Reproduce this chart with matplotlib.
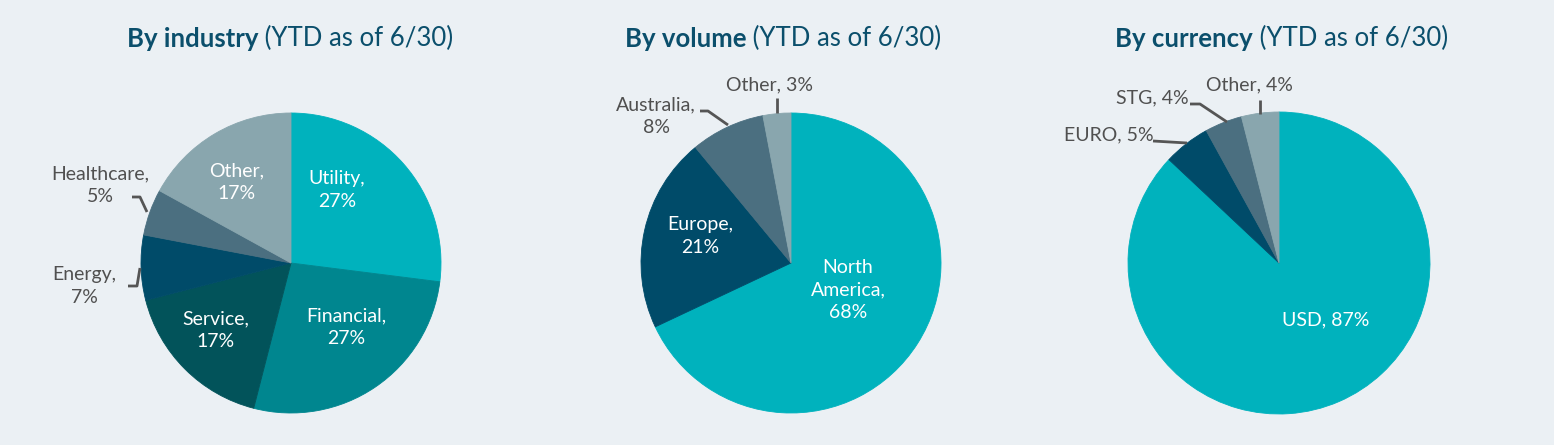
import matplotlib
matplotlib.use("Agg")
import matplotlib.pyplot as plt

# Data
industry_labels = ["Utility", "Financial", "Service", "Energy", "Healthcare", "Other"]
industry_values = [27, 27, 17, 7, 5, 17]

volume_labels = ["North\nAmerica", "Europe", "Australia", "Other"]
volume_values = [68, 21, 8, 3]

currency_labels = ["USD", "EURO", "STG", "Other"]
currency_values = [87, 5, 4, 4]

# Colours
TEAL = "#00B2BD"
FIN = "#00868F"
SERV = "#02535A"
NAVY = "#004B69"
SLATE = "#4B6F80"
GREY = "#89A6AE"
BG = "#EBF0F4"
TITLE_C = "#0B4F6C"
LABEL_C = "#505050"

W, H = 1554, 445
plt.rcParams["font.family"] = ["Lato", "DejaVu Sans"]

fig = plt.figure(figsize=(W / 100, H / 100), dpi=100, facecolor=BG)
ax = fig.add_axes([0, 0, 1, 1])
ax.set_facecolor(BG)


def Y(py):
    return H - py


charts = [
    dict(title="By industry", tx=127, cx=291, cy=263, r=150,
         values=industry_values, labels=industry_labels,
         colors=[TEAL, FIN, SERV, NAVY, SLATE, GREY],
         # label text, (x, y) in pixels, inside?, leader polyline
         texts=[("{},\n{}%", (337, 190), True, None),
                ("{},\n{}%", (346, 327), True, None),
                ("{},\n{}%", (216, 330), True, None),
                ("{},\n{}%", (84, 286), False, [(128, 286), (137, 286), (140, 268)]),
                ("{},\n{}%", (100, 185), False, [(132, 197), (140, 197), (147, 212)]),
                ("{},\n{}%", (237, 182), True, None)]),
    dict(title="By volume", tx=625, cx=791, cy=263, r=150,
         values=volume_values, labels=volume_labels,
         colors=[TEAL, NAVY, SLATE, GREY],
         texts=[("{},\n{}%", (848, 290), True, None),
                ("{},\n{}%", (700, 236), True, None),
                ("{},\n{}%", (656, 116), False, [(700, 111), (708, 111), (728, 125)]),
                ("{}, {}%", (770, 85), False, [(777, 98), (777, 113)])]),
    dict(title="By currency", tx=1115, cx=1279, cy=263, r=151,
         values=currency_values, labels=currency_labels,
         colors=[TEAL, NAVY, SLATE, GREY],
         texts=[("{}, {}%", (1326, 320), True, None),
                ("{}, {}%", (1109, 135), False, [(1153, 141), (1187, 143)]),
                ("{}, {}%", (1152, 98), False, [(1190, 104), (1200, 104), (1227, 122)]),
                ("{}, {}%", (1249, 85), False, [(1260, 100), (1260, 114)])]),
]

for c in charts:
    wedges, _ = ax.pie(c["values"], colors=c["colors"], startangle=90,
                       counterclock=False, center=(c["cx"], Y(c["cy"])),
                       radius=c["r"], frame=True)
    for w in wedges:
        w.set_edgecolor(w.get_facecolor())
        w.set_linewidth(0.6)
    for lab, val, (fmt, (px, py), inside, line) in zip(c["labels"], c["values"], c["texts"]):
        ax.text(px, Y(py), fmt.format(lab, val), ha="center", va="center",
                fontsize=14, color="white" if inside else LABEL_C,
                linespacing=1.4)
        if line:
            ax.plot([p[0] for p in line], [Y(p[1]) for p in line],
                    color="#555555", lw=2, solid_capstyle="butt")
    t1 = ax.text(c["tx"], Y(47), c["title"], fontsize=18.5, fontweight="bold",
                 color=TITLE_C, ha="left", va="baseline")
    ax.annotate(" (YTD as of 6/30)", xy=(1, 0), xycoords=t1, ha="left",
                va="bottom", fontsize=18.5, color=TITLE_C)

ax.set_xlim(0, W)
ax.set_ylim(0, H)
ax.set_aspect("equal")
ax.axis("off")

fig.savefig("out.png", dpi=100, facecolor=BG)
